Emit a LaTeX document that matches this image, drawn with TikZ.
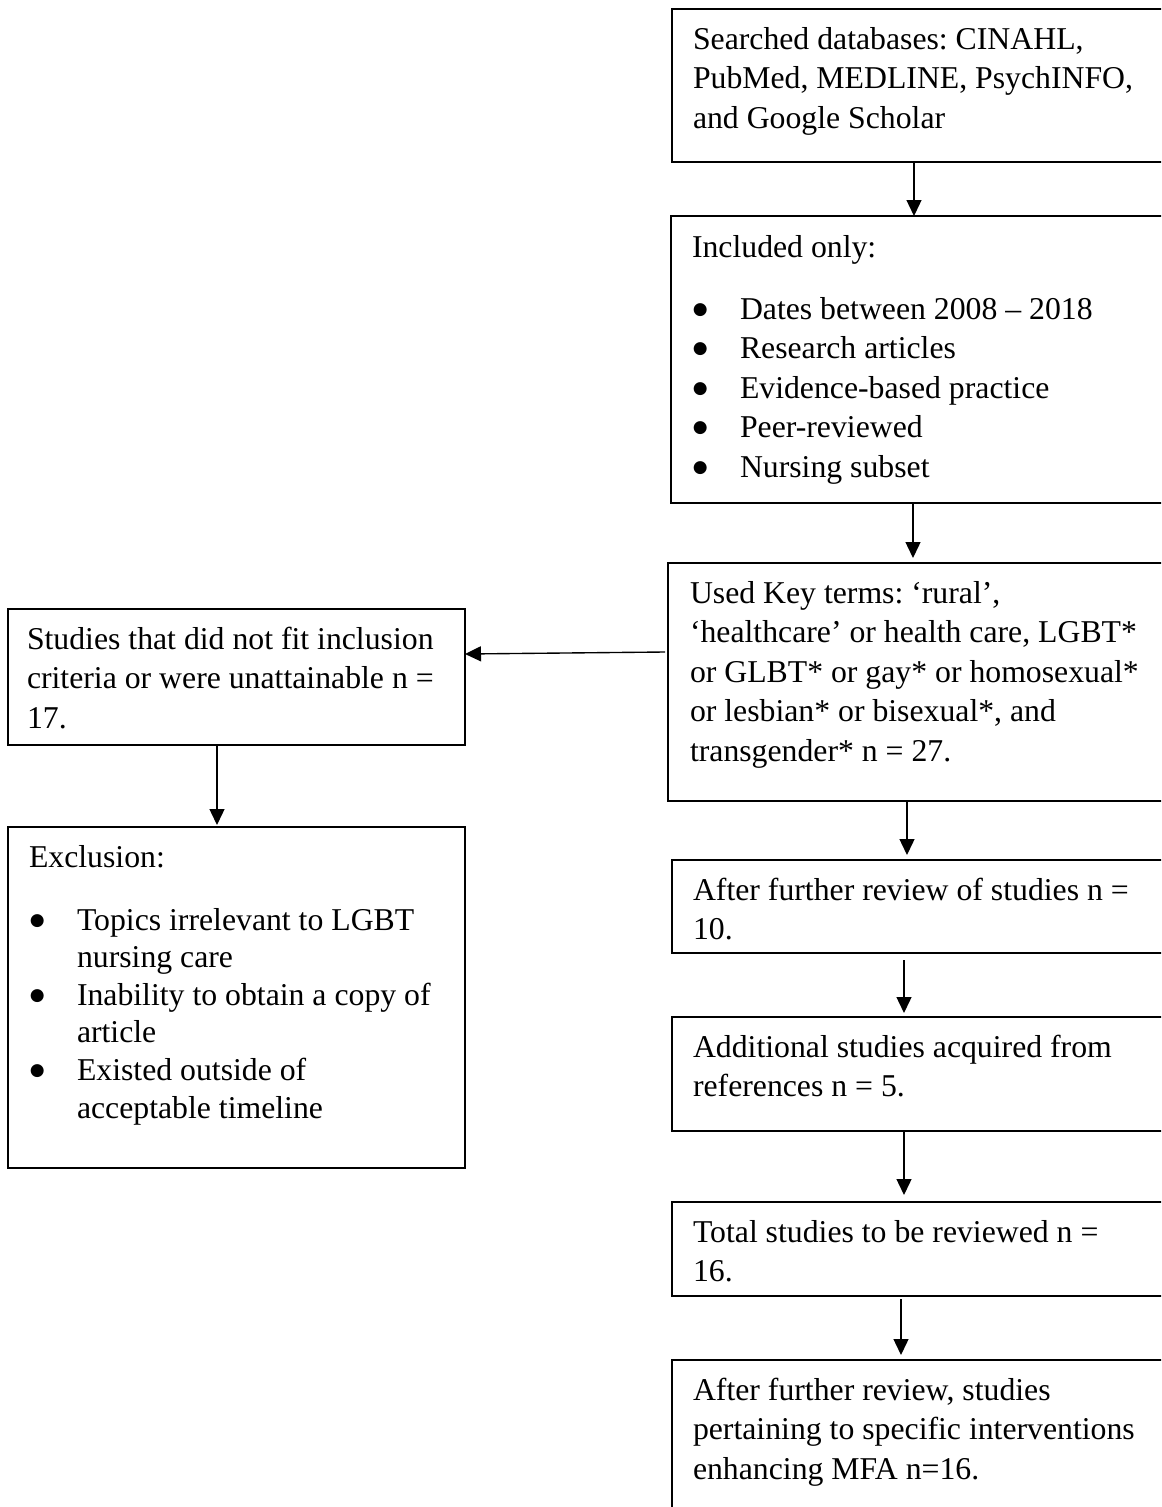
\documentclass[tikz,border=0pt]{standalone}
\usepackage{fontspec}
\setmainfont{Liberation Serif}
\newfontfamily\bulfont{DejaVu Sans}
\usetikzlibrary{arrows.meta,calc,fit}
\newcommand\bul{\makebox[19.2pt][l]{\hspace{0.3pt}\raisebox{1.9pt}{\bulfont\fontsize{6.8pt}{0pt}\selectfont ●}}}
\newcommand\ind{\hspace*{19.2pt}}
\begin{document}
\frenchspacing
\begin{tikzpicture}[x=0.4pt,y=-0.4pt,
  box/.style={draw, line width=0.8pt, inner sep=0pt, outer sep=0pt},
  txt/.style={anchor=north west, inner sep=0pt, outer sep=0pt, align=left,
    font=\fontsize{12.7pt}{15.8pt}\selectfont\frenchspacing},
  txtb/.style={anchor=north west, inner sep=0pt, outer sep=0pt, align=left,
    font=\fontsize{12.7pt}{15.04pt}\selectfont\frenchspacing},
  arr/.style={line width=0.55pt, -{Triangle[width=6pt,length=6.4pt]}}]
\useasboundingbox (0,0) rectangle (1161,1507);
\clip (0,0) rectangle (1161,1507);
% boxes
\node[box, fit={(672,9) (1185,162)}] (b1) {};
\node[box, fit={(671,216) (1185,503)}] (b2) {};
\node[box, fit={(668,563) (1185,801)}] (b3) {};
\node[box, fit={(8,609) (465,745)}] (b4) {};
\node[box, fit={(8,827) (465,1168)}] (b5) {};
\node[box, fit={(672,860) (1185,953)}] (b6) {};
\node[box, fit={(672,1017) (1185,1131)}] (b7) {};
\node[box, fit={(672,1202) (1185,1296)}] (b8) {};
\node[box, fit={(672,1360) (1185,1530)}] (b9) {};
% texts (north = baseline - 27.65)
\node[txt] (t1) at (693,21.35) {\strut Searched databases: CINAHL,\\ PubMed, MEDLINE, PsychINFO,\\ and Google Scholar};
\node[txt] (t2) at (692,229.35) {\strut Included only:\\[9pt]
  \bul Dates between 2008 -- 2018\\
  \bul Research articles\\
  \bul Evidence-based practice\\
  \bul Peer-reviewed\\
  \bul Nursing subset};
\node[txt] (t3) at (690,575.35) {\strut Used Key terms: ‘rural’,\\ ‘healthcare’ or health care, LGBT*\\ or GLBT* or gay* or homosexual*\\ or lesbian* or bisexual*, and\\ transgender* n = 27.};
\node[txt] (t4) at (27,621.35) {\strut Studies that did not fit inclusion\\ criteria or were unattainable n =\\ 17.};
\node[txtb] (t5) at (29,840.7) {\strut Exclusion:\\[10.2pt]
  \bul Topics irrelevant to LGBT\\
  \ind nursing care\\
  \bul Inability to obtain a copy of\\
  \ind article\\
  \bul Existed outside of\\
  \ind acceptable timeline};
\node[txt] (t6) at (693,872.35) {\strut After further review of studies n =\\ 10.};
\node[txt] (t7) at (693,1029.35) {\strut Additional studies acquired from\\ references n = 5.};
\node[txt] (t8) at (693,1214.35) {\strut Total studies to be reviewed n =\\ 16.};
\node[txt] (t9) at (693,1372.35) {\strut After further review, studies\\ pertaining to specific interventions\\ enhancing MFA n=16.};
% arrow columns
\coordinate (c1) at (914,0);
\coordinate (c2) at (913,0);
\coordinate (c3) at (907,0);
\coordinate (c4) at (904,0);
\coordinate (c5) at (904,0);
\coordinate (c6) at (901,0);
\coordinate (c7) at (217,0);
\draw[arr] (c1 |- b1.south) -- (c1 |- b2.north);
\draw[arr, shorten >=2pt] (c2 |- b2.south) -- (c2 |- b3.north);
\draw[arr, shorten >=2pt] (c3 |- b3.south) -- (c3 |- b6.north);
\draw[arr, shorten <=2.8pt, shorten >=1.6pt] (c4 |- b6.south) -- (c4 |- b7.north);
\draw[arr, shorten >=2.8pt] (c5 |- b7.south) -- (c5 |- b8.north);
\draw[arr, shorten <=1.2pt, shorten >=2pt] (c6 |- b8.south) -- (c6 |- b9.north);
\draw[arr, shorten >=0.8pt] (c7 |- b4.south) -- (c7 |- b5.north);
\coordinate (h1) at ($(b3.west)+(-3,-30)$);
\coordinate (h2) at ($(b4.east)+(0,-23)$);
\draw[arr] (h1) -- (h2);
\end{tikzpicture}
\end{document}
